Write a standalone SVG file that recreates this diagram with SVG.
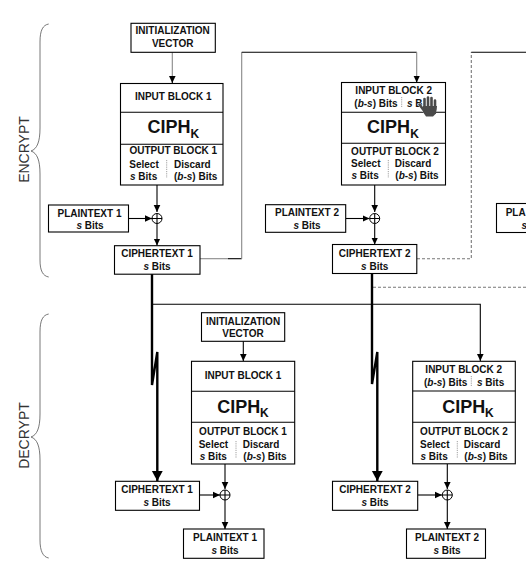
<svg xmlns="http://www.w3.org/2000/svg" width="526" height="580" viewBox="0 0 526 580">
<style>
.b{fill:#fff;stroke:#000;stroke-width:1.1}
.d{fill:none;stroke:#000;stroke-width:1.1}
text{font-family:"Liberation Sans",Arial,sans-serif;font-size:10px;font-weight:bold;fill:#111}
.c{text-anchor:middle}
.ci{font-size:18px}
.k{font-size:12px}
.lab{font-size:14px;font-weight:normal;text-anchor:middle;fill:#333}
.div{stroke:#888;stroke-width:.8;stroke-dasharray:1.2 1;fill:none}
.l{fill:none;stroke:#000;stroke-width:1.1}
.g{fill:none;stroke:#888;stroke-width:1.1}
.dash{fill:none;stroke:#777;stroke-width:1.1;stroke-dasharray:3 2}
.t{fill:none;stroke:#000;stroke-width:2.4}
.brace{fill:none;stroke:#555;stroke-width:.8}
.x{fill:#fff;stroke:#000;stroke-width:1}
</style>
<defs>
<marker id="a" markerUnits="userSpaceOnUse" markerWidth="8" markerHeight="8" refX="7" refY="4" orient="auto"><path d="M0 .7L7 4L0 7.3z" fill="#000"/></marker>
<marker id="A" markerUnits="userSpaceOnUse" markerWidth="11" markerHeight="12" refX="10" refY="6" orient="auto"><path d="M0 .6L10 6L0 11.4z" fill="#000"/></marker>
<g id="xor"><circle class="x" r="5"/><path class="d" d="M-5 0H5M0-5V5"/></g>
</defs>

<g id="connectors">
<path class="g" d="M172.300 52V77"/><path class="l" marker-end="url(#a)" d="M172.300 76V83"/>
<path class="l" marker-end="url(#a)" d="M157 185V212"/>
<path class="l" marker-end="url(#a)" d="M128.500 218.500H152"/>
<path class="l" marker-end="url(#a)" d="M157 223V245.500"/>
<path class="g" d="M200 258.700H228"/>
<path class="l" d="M228 258.700H241.700"/>
<path class="g" d="M241.700 258.700V52.300"/>
<path class="l" d="M241.700 52.300H416.700"/>
<path class="g" d="M416.700 52.300V77"/><path class="l" marker-end="url(#a)" d="M416.700 76V82.500"/>
<path class="l" marker-end="url(#a)" d="M374.700 185V212"/>
<path class="l" marker-end="url(#a)" d="M346 218.500H369.500"/>
<path class="l" marker-end="url(#a)" d="M374.700 223V244.500"/>
<path class="dash" d="M417 258.700H471.300V52.300"/>
<path class="l" d="M471.300 52.300H526"/>
<path class="dash" d="M373 287.300H526"/>
<path class="l" marker-end="url(#a)" d="M152 304.300H480.300V361"/>
<path class="t" marker-end="url(#A)" d="M152 274V385L157.300 352V481"/>
<path class="t" marker-end="url(#A)" d="M372 273V384L377.300 352V481"/>
<path class="l" marker-end="url(#a)" d="M243.300 341V361"/>
<path class="l" marker-end="url(#a)" d="M225 464V489"/>
<path class="l" marker-end="url(#a)" d="M199.500 495H220"/>
<path class="l" marker-end="url(#a)" d="M225 500V529"/>
<path class="l" marker-end="url(#a)" d="M447.300 464V489"/>
<path class="l" marker-end="url(#a)" d="M418 495H442"/>
<path class="l" marker-end="url(#a)" d="M447.300 500V529"/>
<use href="#xor" x="157" y="218.500"/>
<use href="#xor" x="374.700" y="218.500"/>
<use href="#xor" x="225" y="495"/>
<use href="#xor" x="447.300" y="495"/>
</g>

<g id="encrypt-brace">
<path class="brace" d="M48.700 24C43 25 40 30 40 42V128C40 142 37 149 31 151C37 153 40 160 40 174V260C40 271 43 276 48.700 277"/>
<text class="lab" transform="translate(29.300 149.500) rotate(-90)">ENCRYPT</text>
</g>
<g id="decrypt-brace">
<path class="brace" d="M48.700 314C43 315 40 320 40 332V414C40 428 37 435 31 437C37 439 40 446 40 460V540C40 551 43 557 48.700 558"/>
<text class="lab" transform="translate(29.300 435.500) rotate(-90)">DECRYPT</text>
</g>

<g id="iv-1"><rect class="b" x="131" y="23.300" width="84.300" height="29"/>
<text class="c" x="172.700" y="34.300">INITIALIZATION</text><text class="c" x="172.700" y="47">VECTOR</text></g>

<g id="cipher-1"><rect class="b" x="120.500" y="83.500" width="102.500" height="101.500"/>
<path class="d" d="M120.500 112.300H223M120.500 144.300H223"/>
<text class="c" x="173.300" y="100.300">INPUT BLOCK 1</text>
<text class="ci" x="147.500" y="133.300">CIPH</text><text class="k" x="190.500" y="138">K</text>
<text class="c" x="173.300" y="154.300">OUTPUT BLOCK 1</text>
<text x="129.300" y="167.500">Select</text><text x="130" y="179.700"><tspan font-style="italic">s</tspan> Bits</text>
<text x="174" y="167.500">Discard</text><text x="174" y="179.700">(<tspan font-style="italic">b</tspan>-<tspan font-style="italic">s</tspan>) Bits</text>
<path class="div" d="M166.700 160V178"/></g>

<g id="plaintext-1"><rect class="b" x="48.500" y="205" width="80" height="27"/>
<text class="c" x="89.500" y="217.300">PLAINTEXT 1</text><text class="c" x="90" y="228.700"><tspan font-style="italic">s</tspan> Bits</text></g>
<g id="ciphertext-1"><rect class="b" x="114.500" y="245.700" width="85.500" height="28.500"/>
<text class="c" x="157" y="257.300">CIPHERTEXT 1</text><text class="c" x="157" y="269.700"><tspan font-style="italic">s</tspan> Bits</text></g>

<g id="cipher-2"><rect class="b" x="341.500" y="82.500" width="104" height="102.500"/>
<path class="d" d="M341.500 112.300H445.500M341.500 143.300H445.500"/>
<text class="c" x="393.700" y="94">INPUT BLOCK 2</text>
<text x="354.300" y="106.700">(<tspan font-style="italic">b</tspan>-<tspan font-style="italic">s</tspan>) Bits</text><text x="407" y="106.700"><tspan font-style="italic">s</tspan> B</text>
<path class="div" d="M401.700 97V108"/>
<text class="ci" x="367" y="133.300">CIPH</text><text class="k" x="410.300" y="138">K</text>
<text class="c" x="395" y="154.500">OUTPUT BLOCK 2</text>
<text x="351" y="166.700">Select</text><text x="351.500" y="178.700"><tspan font-style="italic">s</tspan> Bits</text>
<text x="394.700" y="166.700">Discard</text><text x="395.300" y="178.700">(<tspan font-style="italic">b</tspan>-<tspan font-style="italic">s</tspan>) Bits</text>
<path class="div" d="M388.300 160V178"/></g>

<g id="plaintext-2"><rect class="b" x="265.500" y="204.700" width="80.200" height="27.600"/>
<text class="c" x="307" y="216.300">PLAINTEXT 2</text><text class="c" x="307" y="228.700"><tspan font-style="italic">s</tspan> Bits</text></g>
<g id="ciphertext-2"><rect class="b" x="332.500" y="244.500" width="84.300" height="29"/>
<text class="c" x="374.700" y="257.300">CIPHERTEXT 2</text><text class="c" x="374.700" y="269.700"><tspan font-style="italic">s</tspan> Bits</text></g>

<g id="plaintext-3"><rect class="b" x="496.500" y="203.500" width="60" height="29"/>
<text x="505.700" y="216.300">PLA</text><text x="521.500" y="228.700" font-style="italic">s</text></g>

<g id="iv-2"><rect class="b" x="201.500" y="312.700" width="83.200" height="28.600"/>
<text class="c" x="243" y="325.300">INITIALIZATION</text><text class="c" x="243" y="337.300">VECTOR</text></g>

<g id="decipher-1"><rect class="b" x="191.500" y="361.300" width="103.200" height="102.700"/>
<path class="d" d="M191.500 391.300H294.700M191.500 422.300H294.700"/>
<text class="c" x="243" y="379.300">INPUT BLOCK 1</text>
<text class="ci" x="217.300" y="412.700">CIPH</text><text class="k" x="260" y="417">K</text>
<text class="c" x="243" y="435.300">OUTPUT BLOCK 1</text>
<text x="198.700" y="447.700">Select</text><text x="199.700" y="459.700"><tspan font-style="italic">s</tspan> Bits</text>
<text x="242.700" y="447.700">Discard</text><text x="243.300" y="459.700">(<tspan font-style="italic">b</tspan>-<tspan font-style="italic">s</tspan>) Bits</text>
<path class="div" d="M236 441V458"/></g>

<g id="decipher-2"><rect class="b" x="412.700" y="361.300" width="102.600" height="102.500"/>
<path class="d" d="M412.700 391H515.300M412.700 422.300H515.300"/>
<text class="c" x="463.700" y="373.300">INPUT BLOCK 2</text>
<text x="424" y="385.700">(<tspan font-style="italic">b</tspan>-<tspan font-style="italic">s</tspan>) Bits</text><text x="477" y="385.700"><tspan font-style="italic">s</tspan> Bits</text>
<path class="div" d="M471.300 376V387"/>
<text class="ci" x="442.300" y="412.700">CIPH</text><text class="k" x="485" y="417">K</text>
<text class="c" x="464" y="435.300">OUTPUT BLOCK 2</text>
<text x="420" y="447.700">Select</text><text x="420.500" y="459.700"><tspan font-style="italic">s</tspan> Bits</text>
<text x="463.700" y="447.700">Discard</text><text x="464.300" y="459.700">(<tspan font-style="italic">b</tspan>-<tspan font-style="italic">s</tspan>) Bits</text>
<path class="div" d="M457.300 441V458"/></g>

<g id="ciphertext-1-d"><rect class="b" x="115.500" y="481.300" width="84" height="29"/>
<text class="c" x="157" y="493.300">CIPHERTEXT 1</text><text class="c" x="157" y="505.700"><tspan font-style="italic">s</tspan> Bits</text></g>
<g id="ciphertext-2-d"><rect class="b" x="332.500" y="481.300" width="85.200" height="29"/>
<text class="c" x="375" y="493.300">CIPHERTEXT 2</text><text class="c" x="375" y="505.700"><tspan font-style="italic">s</tspan> Bits</text></g>
<g id="plaintext-1-d"><rect class="b" x="183.500" y="529" width="80.500" height="29.300"/>
<text class="c" x="225" y="541.300">PLAINTEXT 1</text><text class="c" x="225" y="553.700"><tspan font-style="italic">s</tspan> Bits</text></g>
<g id="plaintext-2-d"><rect class="b" x="406.500" y="529" width="79" height="29.300"/>
<text class="c" x="447" y="541.300">PLAINTEXT 2</text><text class="c" x="447" y="553.700"><tspan font-style="italic">s</tspan> Bits</text></g>

<g id="hand-cursor">
<g fill="none" stroke="#fff" stroke-width="3.400" stroke-linecap="round" opacity=".8"><path d="M424.500 99V109M428 97.500V109M431.500 98V109M435 100.500V110M419.500 104.500L425 112"/></g>
<path d="M423 106H437L436 113.500L433 116.500H426L423 112z" fill="#4a4a4a"/>
<g fill="none" stroke="#4a4a4a" stroke-width="2.600" stroke-linecap="round"><path d="M424.500 99V109M428 97.500V109M431.500 98V109M435 100.500V110M419.500 104.500L425 112"/></g>
</g>
</svg>
